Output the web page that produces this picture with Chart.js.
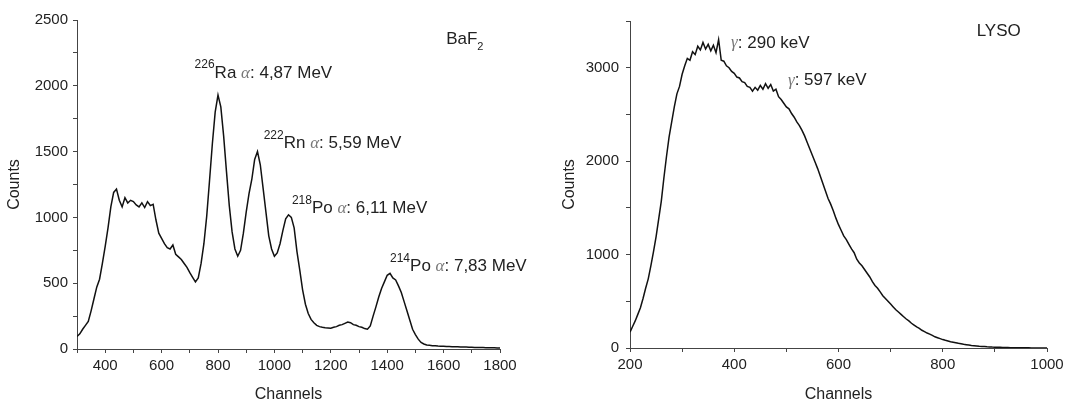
<!DOCTYPE html>
<html><head><meta charset="utf-8">
<script src="https://cdn.jsdelivr.net/npm/chart.js@4/dist/chart.umd.min.js"></script>
<style>
html,body{margin:0;padding:0;background:#fff;overflow:hidden;width:1087px;height:399px;}
#l{position:absolute;left:0;top:0;width:545px;height:410px;}
#r{position:absolute;left:545px;top:0;width:542px;height:410px;}
</style></head><body>
<div id="l"><canvas id="c1" width="545" height="410"></canvas></div>
<div id="r"><canvas id="c2" width="542" height="410"></canvas></div>
<script>
// ---- BaF2 spectrum (channels 300..1800, step 10) ----
const baf2Start = 300, baf2Step = 10;
const baf2Counts = [
  95,115,150,180,210,290,380,470,530,650,
  780,920,1080,1190,1215,1130,1080,1150,1110,1130,
  1120,1095,1080,1110,1075,1120,1090,1100,980,880,
  840,800,770,760,790,720,700,680,650,620,
  580,545,510,540,650,800,1010,1280,1560,1800,
  1930,1840,1620,1350,1090,890,760,705,750,880,
  1040,1180,1290,1440,1500,1400,1220,1040,860,760,
  705,730,800,900,990,1020,1000,920,740,600,
  450,340,270,225,200,180,170,165,162,160,
  158,165,170,180,185,195,205,200,185,180,
  170,165,155,150,175,250,320,395,460,510,
  560,575,540,525,480,430,360,290,220,150,
  110,75,50,38,30,28,25,24,22,21,
  20,19,19,18,17,17,16,15,15,14,
  13,12,12,11,11,10,10,9,9,8,
  8
];
// ---- LYSO spectrum (channels 200..1000, step 5) ----
const lysoStart = 200, lysoStep = 5;
const lysoCounts = [
  170,230,290,360,430,530,640,740,880,1030,
  1190,1380,1570,1820,2050,2260,2420,2580,2720,2800,
  2930,3020,3100,3080,3170,3140,3230,3190,3270,3200,
  3250,3180,3240,3160,3300,3080,3070,3020,3000,2960,
  2940,2900,2890,2850,2840,2800,2790,2750,2790,2760,
  2810,2770,2830,2780,2820,2750,2770,2690,2660,2620,
  2580,2560,2510,2470,2420,2380,2330,2270,2200,2130,
  2060,1990,1920,1840,1760,1680,1600,1540,1470,1390,
  1320,1260,1200,1160,1110,1060,1020,950,910,880,
  840,800,760,710,670,640,600,560,530,500,
  470,440,410,385,360,335,310,290,265,245,
  225,210,190,175,160,148,135,120,110,100,
  90,82,75,68,62,56,50,45,40,36,
  32,28,25,22,19,17,15,13,12,10,
  9,8,7,6,5,5,4,4,3,3,
  2,2,2,2,1,1,1,1,1,1,
  0
];
// axis ranges / tick steps
const baf2X = {min:300, max:1800, step:100, label:200};
const baf2Y = {min:0, max:2500, step:250, label:500};
const lysoX = {min:200, max:1000, step:100, label:200};
const lysoY = {min:0, max:3500, step:500, label:1000};
// annotations (anchored in data coordinates)
const baf2Notes = [
  {ch:1609, cnt:2355, parts:[['BaF','n'],['2','sub']]},
  {ch:717,  cnt:2096, parts:[['226','sup'],['Ra ','n'],['\u03b1','g'],[': 4,87 MeV','n']]},
  {ch:962,  cnt:1562, parts:[['222','sup'],['Rn ','n'],['\u03b1','g'],[': 5,59 MeV','n']]},
  {ch:1062, cnt:1067, parts:[['218','sup'],['Po ','n'],['\u03b1','g'],[': 6,11 MeV','n']]},
  {ch:1410, cnt:625,  parts:[['214','sup'],['Po ','n'],['\u03b1','g'],[': 7,83 MeV','n']]}
];
const lysoNotes = [
  {ch:865, cnt:3394, parts:[['LYSO','n']]},
  {ch:394, cnt:3266, parts:[['\u03b3','g'],[': 290 keV','n']]},
  {ch:503, cnt:2860, parts:[['\u03b3','g'],[': 597 keV','n']]}
];

const FONT = "'Liberation Sans', Arial, sans-serif";
Chart.defaults.font.family = FONT;
Chart.defaults.font.size = 15;
Chart.defaults.color = '#222';

const notePlugin = {
  id:'notes',
  afterDraw(chart, args, opts){
    const ctx = chart.ctx, xs = chart.scales.x, ys = chart.scales.y;
    (opts.items||[]).forEach(it=>{
      let x = xs.getPixelForValue(it.ch);
      const y = ys.getPixelForValue(it.cnt);
      it.parts.forEach(([t,k])=>{
        ctx.save();
        let dy = 0, color = '#222', font = "17px " + FONT;
        if (k==='sup'){ font = "12px " + FONT; dy = -8; }
        else if (k==='sub'){ font = "11px " + FONT; dy = 8; }
        else if (k==='g'){ font = "italic 17px 'Liberation Serif', serif"; color = '#777'; }
        ctx.font = font; ctx.fillStyle = color;
        ctx.textBaseline = 'middle'; ctx.textAlign = 'left';
        ctx.fillText(t, x, y + dy);
        x += ctx.measureText(t).width;
        ctx.restore();
      });
    });
  }
};

function makeChart(id, start, step, counts, xr, yr, notes, geom){
  const pts = counts.map((v,i)=>({x:start + i*step, y:v}));
  return new Chart(document.getElementById(id), {
    type:'line',
    data:{datasets:[{data:pts, borderColor:'#111', borderWidth:1.5, pointRadius:0, tension:0, fill:false}]},
    options:{
      responsive:false, animation:false, events:[],
      layout:{padding:{left:0, right:geom.right, top:geom.top, bottom:0}},
      plugins:{legend:{display:false}, tooltip:{enabled:false}, notes:{items:notes}},
      scales:{
        x:{type:'linear', min:xr.min, max:xr.max,
           afterFit:s=>{s.height = geom.xh;},
           ticks:{stepSize:xr.step, autoSkip:false, maxRotation:0, padding:4,
                  callback:v=> v % xr.label === 0 ? String(v) : ''},
           grid:{drawOnChartArea:false, tickLength:4, color:'#444'},
           border:{color:'#444', width:1},
           title:{display:true, text:'Channels', font:{size:16}, padding:{top:0, bottom:6}}},
        y:{type:'linear', min:yr.min, max:yr.max,
           afterFit:s=>{s.width = geom.yw;},
           ticks:{stepSize:yr.step, autoSkip:false, padding:geom.ytp,
                  callback:v=> v % yr.label === 0 ? String(v) : ''},
           grid:{drawOnChartArea:false, tickLength:4, color:'#444'},
           border:{color:'#444', width:1},
           title:{display:true, text:'Counts', font:{size:16}, padding:{top:geom.ytitle, bottom:0}}}
      }
    },
    plugins:[notePlugin]
  });
}

makeChart('c1', baf2Start, baf2Step, baf2Counts, baf2X, baf2Y, baf2Notes,
  {right:45, top:20, xh:61, yw:77, ytp:5, ytitle:5});
makeChart('c2', lysoStart, lysoStep, lysoCounts, lysoX, lysoY, lysoNotes,
  {right:40, top:21, xh:62, yw:85, ytp:7, ytitle:15});
</script>
</body></html>
